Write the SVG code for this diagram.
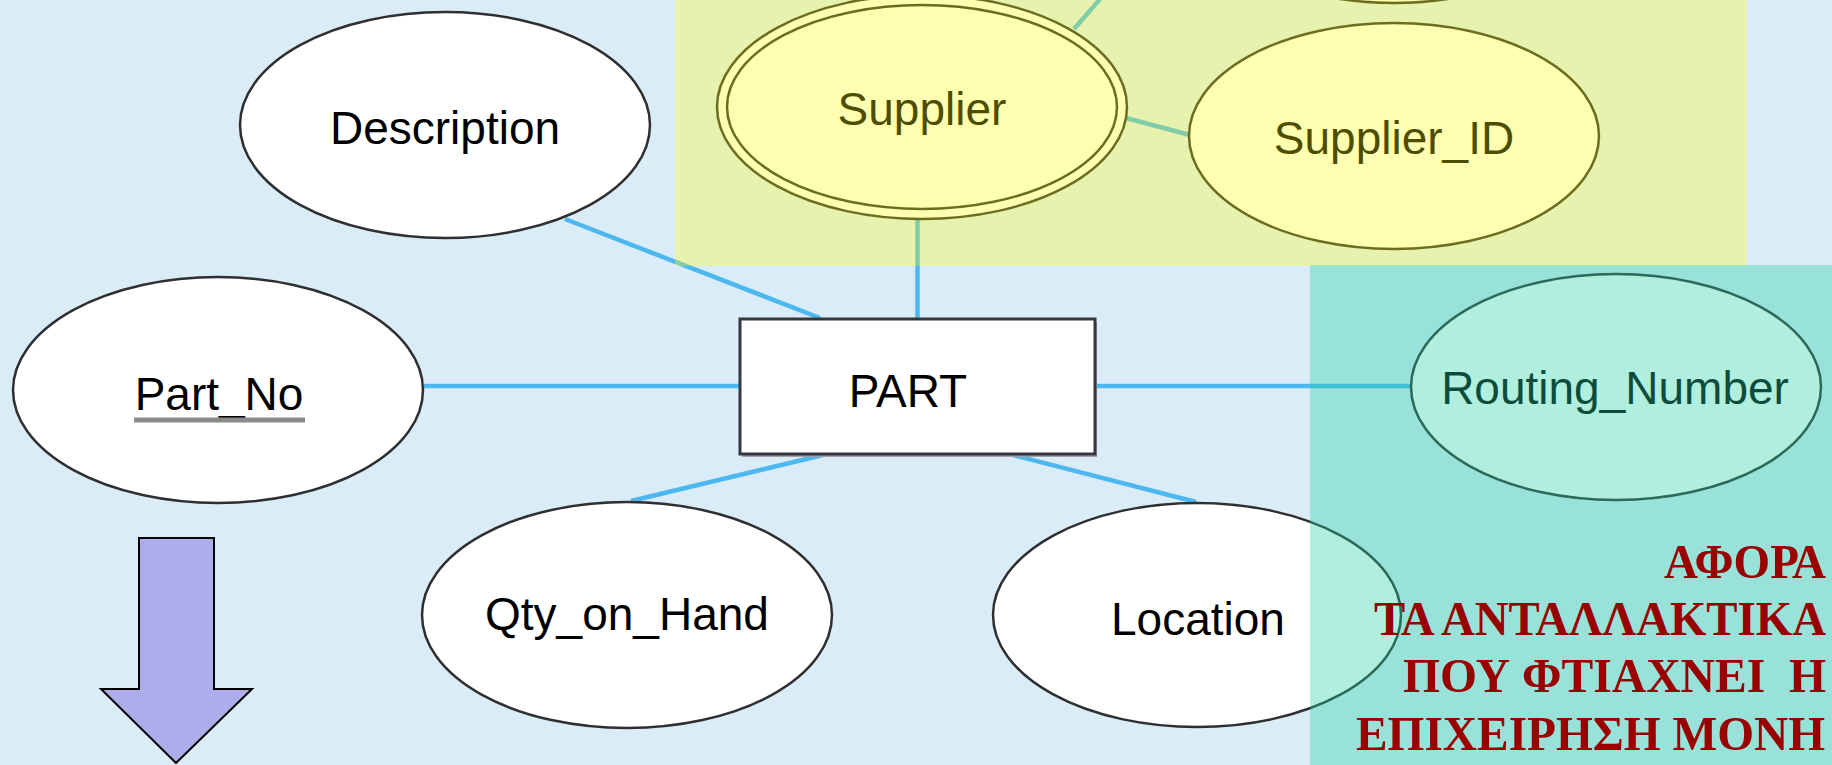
<svg xmlns="http://www.w3.org/2000/svg" width="1832" height="765" viewBox="0 0 1832 765">
  <style>
    .conn { stroke: #4DB8F0; stroke-width: 4.5; fill: none; }
    .attr { fill: #FFFFFF; stroke: #2F2F2F; stroke-width: 2.5; }
    .lbl { font-family: "Liberation Sans", Arial, sans-serif; font-size: 46px; fill: #000000; text-anchor: middle; }
    .greek { font-family: "Liberation Serif", "Times New Roman", serif; font-size: 49px; font-weight: bold; fill: #990000; text-anchor: end; white-space: pre; }
  </style>
  <rect x="0" y="0" width="1832" height="765" fill="#DBECF9"/>

  <g id="connectors">
    <line class="conn" x1="565" y1="219" x2="820" y2="318"/>
    <line class="conn" x1="424" y1="386" x2="740" y2="386"/>
    <line class="conn" x1="917.5" y1="219" x2="917.5" y2="318"/>
    <line class="conn" x1="1095" y1="386" x2="1411" y2="386"/>
    <line class="conn" x1="823" y1="455" x2="631" y2="501"/>
    <line class="conn" x1="1013" y1="455" x2="1196" y2="502"/>
    <line class="conn" x1="1126" y1="118" x2="1190" y2="135"/>
    <line class="conn" x1="1074" y1="29" x2="1101" y2="-2"/>
  </g>

  <g id="node-part">
    <rect x="742" y="322" width="355" height="135" fill="#9EA2A8"/>
    <rect x="740" y="319" width="355" height="135" fill="#FFFFFF" stroke="#34373C" stroke-width="3"/>
    <text class="lbl" x="908" y="407">PART</text>
  </g>

  <g id="node-description">
    <ellipse class="attr" cx="445" cy="125" rx="205" ry="113"/>
    <text class="lbl" x="445" y="143.5">Description</text>
  </g>

  <g id="node-part-no">
    <ellipse class="attr" cx="218" cy="390" rx="205" ry="113"/>
    <text class="lbl" x="219" y="410">Part_No</text>
    <line x1="134" y1="420" x2="305" y2="420" stroke="#8A8A8A" stroke-width="5"/>
  </g>

  <g id="node-supplier">
    <ellipse class="attr" cx="922" cy="107" rx="205" ry="112"/>
    <ellipse class="attr" cx="922" cy="107" rx="195" ry="102"/>
    <text class="lbl" x="922" y="125">Supplier</text>
  </g>

  <g id="node-supplier-id">
    <ellipse class="attr" cx="1394" cy="136" rx="205" ry="113"/>
    <text class="lbl" x="1394" y="154">Supplier_ID</text>
  </g>

  <g id="node-top-attribute">
    <ellipse class="attr" cx="1394" cy="-110" rx="205" ry="113"/>
  </g>

  <g id="node-routing-number">
    <ellipse class="attr" cx="1616" cy="387" rx="205" ry="113"/>
    <text class="lbl" x="1615" y="404">Routing_Number</text>
  </g>

  <g id="node-qty-on-hand">
    <ellipse class="attr" cx="627" cy="615" rx="205" ry="113"/>
    <text class="lbl" x="627" y="630">Qty_on_Hand</text>
  </g>

  <g id="node-location">
    <ellipse class="attr" cx="1197" cy="615" rx="204" ry="112"/>
    <text class="lbl" x="1198" y="635">Location</text>
  </g>

  <rect id="panel-yellow" x="675" y="0" width="1072" height="266" fill="#FFFF00" fill-opacity="0.3"/>
  <rect id="panel-teal" x="1310" y="265" width="522" height="500" fill="#24D0A4" fill-opacity="0.36"/>

  <g id="arrow">
    <polygon points="139,538 214,538 214,689 252,689 176,763 101,689 139,689" fill="#ADADEB" stroke="#000000" stroke-width="2" stroke-linejoin="miter"/>
  </g>

  <g id="note">
    <text class="greek" x="1826" y="578" textLength="162" lengthAdjust="spacingAndGlyphs">ΑΦΟΡΑ</text>
    <text class="greek" x="1826" y="635" textLength="452" lengthAdjust="spacingAndGlyphs">ΤΑ ΑΝΤΑΛΛΑΚΤΙΚΑ</text>
    <text class="greek" x="1826" y="692" textLength="423" lengthAdjust="spacingAndGlyphs" xml:space="preserve">ΠΟΥ ΦΤΙΑΧΝΕΙ  Η</text>
    <text class="greek" x="1825" y="750" textLength="469" lengthAdjust="spacingAndGlyphs">ΕΠΙΧΕΙΡΗΣΗ ΜΟΝΗ</text>
  </g>
</svg>
